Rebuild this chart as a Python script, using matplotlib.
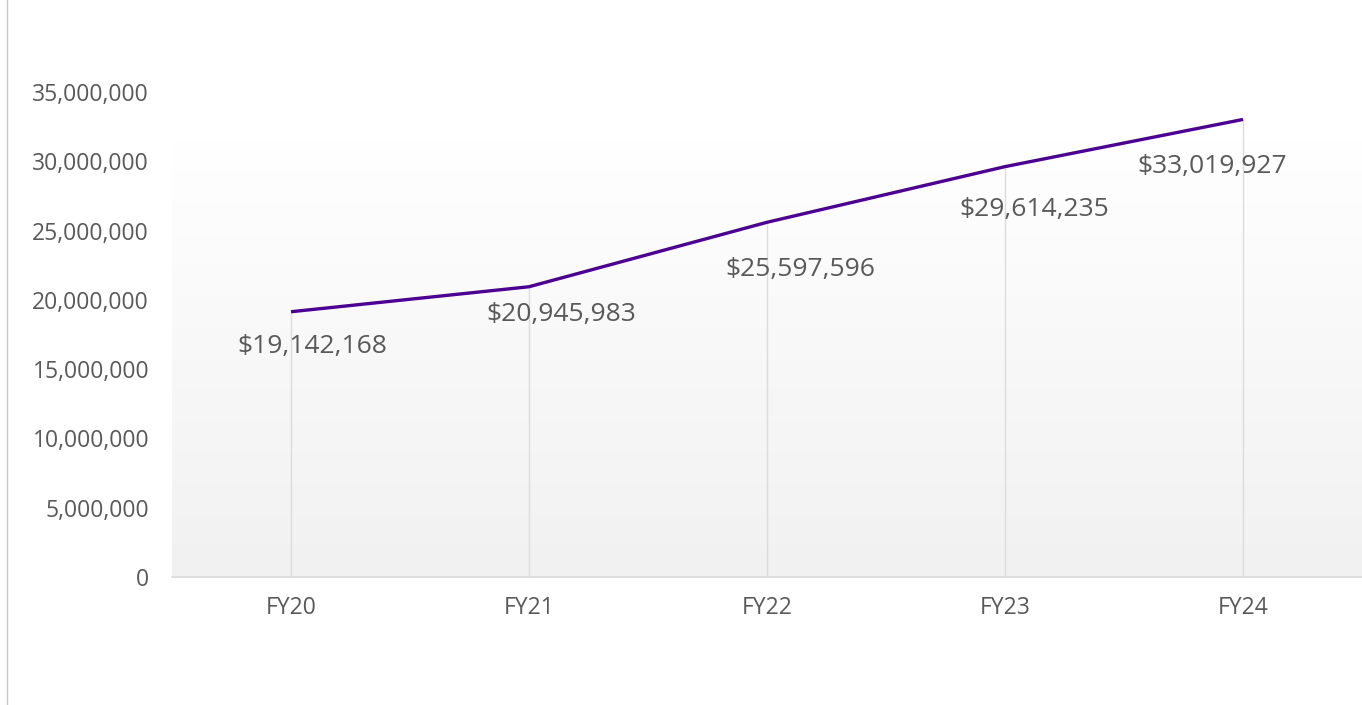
import numpy as np
import matplotlib.pyplot as plt
from matplotlib.colors import LinearSegmentedColormap
from matplotlib.lines import Line2D

plt.rcParams['font.family'] = ['Open Sans', 'DejaVu Sans']

years = ['FY20', 'FY21', 'FY22', 'FY23', 'FY24']
revenue = [19142168, 20945983, 25597596, 29614235, 33019927]
y_ticks = [0, 5000000, 10000000, 15000000, 20000000, 25000000, 30000000, 35000000]

# label offsets in points (dx, dy) relative to each point
label_offsets = [(15, -25), (23, -20), (24, -34), (21, -31), (-22, -34)]

fig = plt.figure(figsize=(13.62, 7.05), dpi=100)
ax = fig.add_axes([172 / 1362, 128 / 705, 1190 / 1362, 485 / 705])

x = np.arange(len(years)) + 0.5

# gradient background of the plot area
grad = np.linspace(0, 1, 256).reshape(-1, 1)
cmap = LinearSegmentedColormap.from_list('bg', ['#f1f1f1', '#ffffff'])
ax.imshow(grad, extent=[0, 1, 0, 0.9], transform=ax.transAxes, aspect='auto',
          cmap=cmap, origin='lower', zorder=0)

ax.vlines(x, 0, revenue, color='#dcdcdc', lw=1, zorder=1)
ax.plot(x, revenue, color='#4b0092', lw=2.4, zorder=3, solid_capstyle='butt')

for xi, v, off in zip(x, revenue, label_offsets):
    ax.annotate(f'${v:,.0f}', (xi, v), xytext=off, textcoords='offset points',
                ha='center', va='center', fontsize=19, color='#595959', zorder=4)

ax.set_xlim(0, len(years))
ax.set_ylim(0, 35000000)
ax.set_xticks(x)
ax.set_xticklabels(years)
ax.set_yticks(y_ticks)
ax.set_yticklabels([f'{t:,}' for t in y_ticks])
ax.tick_params(axis='both', length=0, labelsize=16.5, labelcolor='#595959')
ax.tick_params(axis='x', pad=14)
ax.tick_params(axis='y', pad=16.5)

for s in ['top', 'right', 'left']:
    ax.spines[s].set_visible(False)
ax.spines['bottom'].set_color('#d9d9d9')
ax.spines['bottom'].set_linewidth(1.2)

fig.add_artist(Line2D([7 / 1362, 7 / 1362], [0, 1], color='#c8c8c8', lw=1,
                      transform=fig.transFigure))

fig.savefig('out.png', dpi=100)
